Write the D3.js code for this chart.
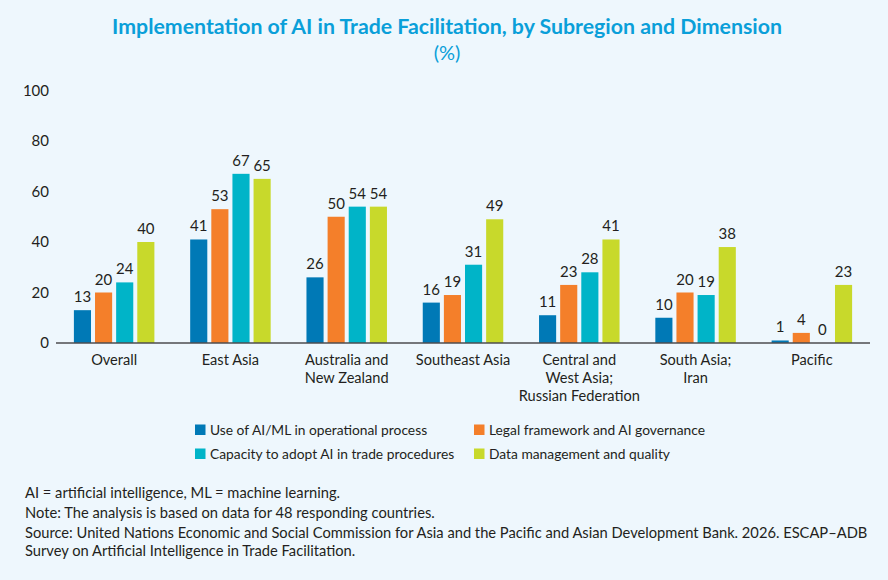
<!DOCTYPE html>
<html>
<head>
<meta charset="utf-8">
<script src="https://cdn.jsdelivr.net/npm/d3@7"></script>
<style>
  html, body { margin: 0; padding: 0; background: #eef7fd; }
  svg { display: block; font-family: Lato, "Noto Sans", sans-serif; }
</style>
</head>
<body>
<svg id="chart" width="888" height="580"></svg>
<script>
// Categories (subregions) and their label lines
const categories = ['Overall', 'East Asia', 'Australia and New Zealand', 'Southeast Asia',
  'Central and West Asia; Russian Federation', 'South Asia; Iran', 'Pacific'];
const categoryLines = [
  ['Overall'], ['East Asia'], ['Australia and', 'New Zealand'], ['Southeast Asia'],
  ['Central and', 'West Asia;', 'Russian Federation'], ['South Asia;', 'Iran'], ['Pacific']
];

// Series
const seriesNames = ['Use of AI/ML in operational process', 'Legal framework and AI governance',
  'Capacity to adopt AI in trade procedures', 'Data management and quality'];
const seriesColors = ['#0079b6', '#f47f2a', '#00b4c8', '#c8d92b'];

const useOfAI   = [13, 41, 26, 16, 11, 10, 1];
const legal     = [20, 53, 50, 19, 23, 20, 4];
const capacity  = [24, 67, 54, 31, 28, 19, 0];
const dataMgmt  = [40, 65, 54, 49, 41, 38, 23];
const seriesValues = [useOfAI, legal, capacity, dataMgmt];

const yTicks = [0, 20, 40, 60, 80, 100];

const notes = [
  'AI = artificial intelligence, ML = machine learning.',
  'Note: The analysis is based on data for 48 responding countries.',
  'Source: United Nations Economic and Social Commission for Asia and the Pacific and Asian Development Bank. 2026. ESCAP\u2013ADB',
  'Survey on Artificial Intelligence in Trade Facilitation.'
];

const svg = d3.select('#chart');
const textColor = '#231f20';

// Titre
svg.append('text')
  .attr('x', 447).attr('y', 34)
  .attr('text-anchor', 'middle')
  .attr('font-size', 21.3).attr('font-weight', 700)
  .attr('fill', '#0a9fd9')
  .text('Implementation of AI in Trade Facilitation, by Subregion and Dimension');

svg.append('text')
  .attr('x', 447).attr('y', 60)
  .attr('text-anchor', 'middle')
  .attr('font-size', 20)
  .attr('fill', '#0a9fd9')
  .text('(%)');

// Scales
const left = 56, right = 870, baseY = 343;
const x0 = d3.scaleBand().domain(categories).range([left, right]).padding(0);
const groupW = 80.5;
const x1 = d3.scaleBand().domain(d3.range(seriesNames.length)).range([0, groupW]).paddingInner(0.19);
const y = d3.scaleLinear().domain([0, 100]).range([baseY, 90.5]);

// Y tick labels (no axis line)
svg.append('g').selectAll('text')
  .data(yTicks)
  .join('text')
  .attr('x', 49)
  .attr('y', d => y(d))
  .attr('dy', '0.36em')
  .attr('text-anchor', 'end')
  .attr('font-size', 15)
  .attr('fill', textColor)
  .text(d => d);

// Bars
const groups = svg.append('g').selectAll('g')
  .data(categories)
  .join('g')
  .attr('transform', d => `translate(${x0(d) + (x0.bandwidth() - groupW) / 2},0)`);

groups.selectAll('rect')
  .data((d, i) => seriesValues.map((vals, s) => ({ s, v: vals[i] })))
  .join('rect')
  .attr('x', d => x1(d.s))
  .attr('y', d => y(d.v))
  .attr('width', x1.bandwidth())
  .attr('height', d => baseY - y(d.v))
  .attr('fill', d => seriesColors[d.s]);

// Value labels
groups.selectAll('text')
  .data((d, i) => seriesValues.map((vals, s) => ({ s, v: vals[i] })))
  .join('text')
  .attr('x', d => x1(d.s) + x1.bandwidth() / 2)
  .attr('y', d => y(d.v) - 8)
  .attr('text-anchor', 'middle')
  .attr('font-size', 15)
  .attr('fill', textColor)
  .text(d => d.v);

// Axe horizontal
svg.append('line')
  .attr('x1', left).attr('x2', right)
  .attr('y1', baseY).attr('y2', baseY)
  .attr('stroke', '#4d4d4f').attr('stroke-width', 1.3);

// Category labels
const catLabels = svg.append('g').selectAll('text')
  .data(categories)
  .join('text')
  .attr('x', d => x0(d) + x0.bandwidth() / 2)
  .attr('y', 365)
  .attr('text-anchor', 'middle')
  .attr('font-size', 14.6)
  .attr('fill', textColor);

catLabels.selectAll('tspan')
  .data((d, i) => categoryLines[i])
  .join('tspan')
  .attr('x', function() { return this.parentNode.getAttribute('x'); })
  .attr('dy', (d, i) => i === 0 ? 0 : 18)
  .text(d => d);

// Légende
const legendPos = [[195, 430], [474, 430], [195, 454], [474, 454]];
const legend = svg.append('g').selectAll('g')
  .data(seriesNames)
  .join('g')
  .attr('transform', (d, i) => `translate(${legendPos[i][0]},${legendPos[i][1]})`);

legend.append('rect')
  .attr('x', 0).attr('y', -5.5)
  .attr('width', 10.5).attr('height', 10.5)
  .attr('fill', (d, i) => seriesColors[i]);

legend.append('text')
  .attr('x', 15).attr('y', 0)
  .attr('dy', '0.36em')
  .attr('font-size', 13.8)
  .attr('fill', textColor)
  .text(d => d);

// Notes
svg.append('g').selectAll('text')
  .data(notes)
  .join('text')
  .attr('x', 25)
  .attr('y', (d, i) => [498, 518, 538, 556][i])
  .attr('font-size', 14.7)
  .attr('fill', textColor)
  .text(d => d);
</script>
</body>
</html>
